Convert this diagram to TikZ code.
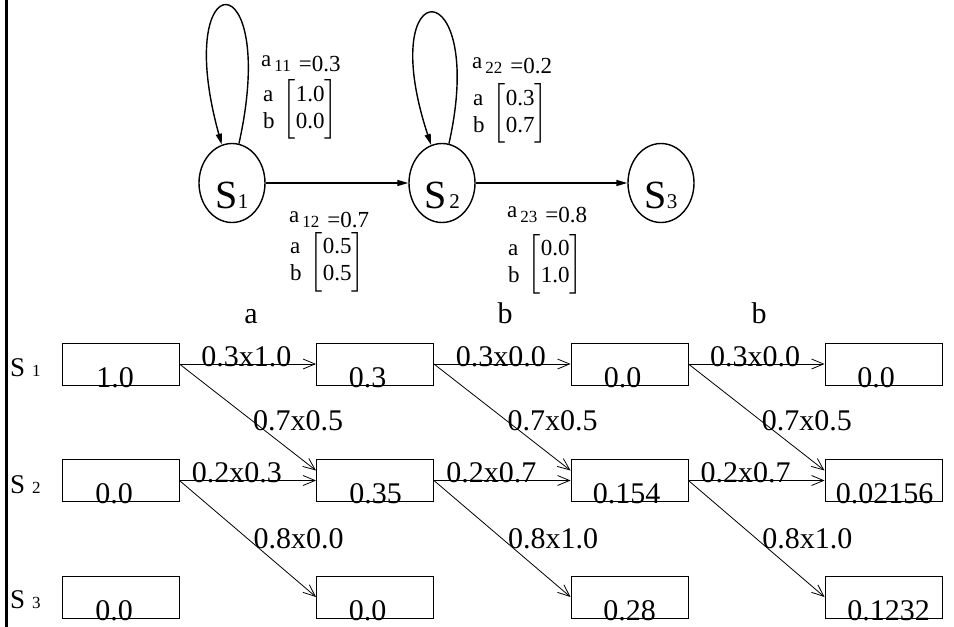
\documentclass[tikz,border=0pt]{standalone}
\usepackage{amsmath}
\usepackage{fontspec}
\setmainfont{Liberation Serif}
\usetikzlibrary{arrows.meta,shapes.geometric}

\newcommand{\aij}[2]{\raisebox{5pt}{a}\hspace{3pt}{\fontsize{17}{17}\selectfont #1}\hspace{8pt}=#2}
\newcommand{\emis}[2]{$\begin{array}{@{}l@{}}\text{a}\\\text{b}\end{array}\hspace{4pt}\left[\begin{array}{@{}l@{}}\text{#1}\\\text{#2}\end{array}\right]$}
\newcommand{\sub}[1]{{\fontsize{21}{21}\selectfont #1}}

\begin{document}
\begin{tikzpicture}[x=1pt, y=-1pt, >={Triangle[length=11pt,width=6pt]},
	state/.style={ellipse, draw, line width=1.4pt, minimum width=66pt, minimum height=79pt, inner sep=0pt, text height=50pt, text depth=0pt, font=\fontsize{40}{40}\selectfont},
	trans/.style={->, line width=1.4pt},
	prob/.style={anchor=base west, inner sep=0pt, font=\fontsize{23}{23}\selectfont},
	vec/.style={anchor=west, inner sep=0pt, font=\fontsize{23}{27}\selectfont},
	cell/.style={draw, line width=0.9pt, minimum width=117pt, minimum height=42pt, inner sep=0pt},
	val/.style={anchor=base, inner sep=0pt, font=\fontsize{30}{30}\selectfont},
	hop/.style={line width=0.8pt, -{Straight Barb[length=12pt,width=10pt]}},
	hlbl/.style={anchor=base, inner sep=0pt, yshift=-2pt, font=\fontsize{30}{30}\selectfont},
	dlbl/.style={anchor=west, inner sep=0pt, font=\fontsize{30}{30}\selectfont},
	rowlbl/.style={anchor=base west, inner sep=0pt, font=\fontsize{27}{27}\selectfont},
	collbl/.style={anchor=base, inner sep=0pt, font=\fontsize{30}{30}\selectfont}]
	\useasboundingbox (0,0) rectangle (954,627);
	\draw[line width=3pt] (6.5,0) -- (6.5,627);
	% model
	\node[state] (S1) at (232,183) {S\sub{1}};
	\node[state] (S2) at (442,183) {S\hspace{3pt}\sub{2}};
	\node[state] (S3) at (661,183) {S\sub{3}};
	\draw[trans] (S1.80) .. controls +(41,-185) and +(-51,-184) .. (S1.105);
	\draw[trans] (S2.80) .. controls +(39,-174) and +(-58,-176) .. (S2.106);
	\draw[trans] (S1) -- (S2);
	\draw[trans] (S2) -- (S3);
	\node[prob] (p11) at (261,71) {\aij{11}{0.3}};
	\node[vec] (b11) at (263,109.5) {\emis{1.0}{0.0}};
	\node[prob] (p12) at (289,227) {\aij{12}{0.7}};
	\node[vec] (b12) at (290,262) {\emis{0.5}{0.5}};
	\node[prob] (p22) at (472,73) {\aij{22}{0.2}};
	\node[vec] (b22) at (473,113.5) {\emis{0.3}{0.7}};
	\node[prob] (p23) at (507,222) {\aij{23}{0.8}};
	\node[vec] (b23) at (508,264) {\emis{0.0}{1.0}};
	% trellis
	\node[collbl] (o1) at (251,323) {a};
	\node[collbl] (o2) at (505,323) {b};
	\node[collbl] (o3) at (759,323) {b};
	\node[rowlbl] (r1) at (10,376) {S\hspace{7pt}{\fontsize{17}{17}\selectfont 1}};
	\node[rowlbl] (r2) at (10,493) {S\hspace{7pt}{\fontsize{17}{17}\selectfont 2}};
	\node[rowlbl] (r3) at (10,608) {S\hspace{7pt}{\fontsize{17}{17}\selectfont 3}};
	\node[cell] (c11) at (120.5,364) {};
	\node[cell] (c21) at (120.5,480.5) {};
	\node[cell] (c31) at (120.5,597) {};
	\node[cell] (c12) at (375,364) {};
	\node[cell] (c22) at (375,480.5) {};
	\node[cell] (c32) at (375,597) {};
	\node[cell] (c13) at (629.5,364) {};
	\node[cell] (c23) at (629.5,480.5) {};
	\node[cell] (c33) at (629.5,597) {};
	\node[cell] (c14) at (883.5,364) {};
	\node[cell] (c24) at (883.5,480.5) {};
	\node[cell] (c34) at (883.5,597) {};
	\node[val] (v11) at ([xshift=-5.5pt,yshift=-2pt]c11.south) {1.0};
	\node[val] (v21) at ([xshift=-6.5pt,yshift=-2pt]c21.south) {0.0};
	\node[val] (v31) at ([xshift=-6.5pt,yshift=-2pt]c31.south) {0.0};
	\node[val] (v12) at ([xshift=-7.5pt,yshift=-2pt]c12.south) {0.3};
	\node[val] (v22) at ([xshift=0.5pt,yshift=-2pt]c22.south) {0.35};
	\node[val] (v32) at ([xshift=-7.5pt,yshift=-2pt]c32.south) {0.0};
	\node[val] (v13) at ([xshift=-7pt,yshift=-2pt]c13.south) {0.0};
	\node[val] (v23) at ([xshift=-3pt,yshift=-2pt]c23.south) {0.154};
	\node[val] (v33) at ([yshift=-2pt]c33.south) {0.28};
	\node[val] (v14) at ([xshift=-7.5pt,yshift=-2pt]c14.south) {0.0};
	\node[val] (v24) at ([xshift=1pt,yshift=-2pt]c24.south) {0.02156};
	\node[val] (v34) at ([xshift=5pt,yshift=-2pt]c34.south) {0.1232};
	\draw[hop] (c11.east) -- node[hlbl, pos=0.49] (h11) {0.3x1.0} (c12.west);
	\draw[hop] (c11.east) -- node[dlbl, pos=0.536] (d11) {0.7x0.5} ([yshift=10pt]c22.west);
	\draw[hop] (c21.east) -- node[hlbl, pos=0.42] (h21) {0.2x0.3} (c22.west);
	\draw[hop] (c21.east) -- node[dlbl, pos=0.54, yshift=5pt] (d21) {0.8x0.0} (c32.west);
	\draw[hop] (c12.east) -- node[hlbl, pos=0.49] (h12) {0.3x0.0} (c13.west);
	\draw[hop] (c12.east) -- node[dlbl, pos=0.536] (d12) {0.7x0.5} ([yshift=10pt]c23.west);
	\draw[hop] (c22.east) -- node[hlbl, pos=0.42] (h22) {0.2x0.7} (c23.west);
	\draw[hop] (c22.east) -- node[dlbl, pos=0.54, yshift=5pt] (d22) {0.8x1.0} (c33.west);
	\draw[hop] (c13.east) -- node[hlbl, pos=0.49] (h13) {0.3x0.0} (c14.west);
	\draw[hop] (c13.east) -- node[dlbl, pos=0.536] (d13) {0.7x0.5} ([yshift=10pt]c24.west);
	\draw[hop] (c23.east) -- node[hlbl, pos=0.42] (h23) {0.2x0.7} (c24.west);
	\draw[hop] (c23.east) -- node[dlbl, pos=0.54, yshift=5pt] (d23) {0.8x1.0} (c34.west);
\end{tikzpicture}
\end{document}
